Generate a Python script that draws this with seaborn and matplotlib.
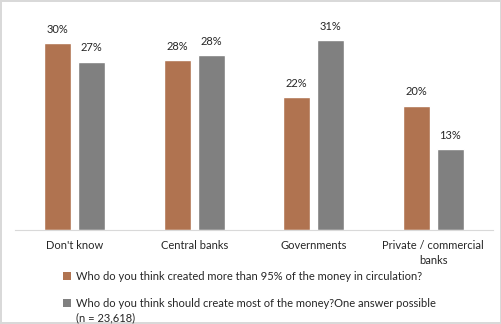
import matplotlib
matplotlib.use("Agg")
import matplotlib.pyplot as plt
from matplotlib.patches import Patch
import seaborn as sns
import pandas as pd

categories = ["Don't know", "Central banks", "Governments", "Private / commercial\nbanks"]
created = [30.4, 27.6, 21.6, 20.2]
should_create = [27.4, 28.4, 30.9, 13.1]
series_names = [
    "Who do you think created more than 95% of the money in circulation?",
    "Who do you think should create most of the money?One answer possible",
]
sample_note = "(n = 23,618)"
colors = ["#B07350", "#808080"]

df = pd.DataFrame({
    "category": categories * 2,
    "value": created + should_create,
    "series": [series_names[0]] * 4 + [series_names[1]] * 4,
})

sns.set_style("white")
plt.rcParams["font.family"] = ["Lato", "DejaVu Sans"]

fig = plt.figure(figsize=(5.02, 3.24), dpi=100)
fig.patch.set_edgecolor("#D9D9D9")
fig.patch.set_linewidth(1.5)
ax = fig.add_axes([0.03, 0.29, 0.952, 0.672])

sns.barplot(data=df, x="category", y="value", hue="series", order=categories,
            hue_order=series_names, palette=colors, width=0.57, gap=0.2,
            saturation=1, ax=ax, legend=False)

for cont in ax.containers:
    ax.bar_label(cont, labels=[f"{v:.0f}%" for v in cont.datavalues],
                 padding=6, fontsize=8, color="#262626")

ax.set_ylim(0, 35.4)
ax.set_xlim(-0.5, 3.5)
ax.set_xlabel("")
ax.set_ylabel("")
ax.set_yticks([])
for s in ["top", "right", "left"]:
    ax.spines[s].set_visible(False)
ax.spines["bottom"].set_color("#D9D9D9")
ax.tick_params(axis="x", length=0, labelsize=8, labelcolor="#262626", pad=7.2)
for lbl in ax.get_xticklabels():
    lbl.set_linespacing(1.45)

handles = [Patch(facecolor=c, edgecolor="none") for c in colors]
leg = fig.legend(handles, series_names, loc="upper left", bbox_to_anchor=(0.125, 0.165),
                 frameon=False, fontsize=8, handlelength=0.7, handleheight=0.7,
                 handletextpad=0.45, labelspacing=1.45, labelcolor="#262626",
                 borderaxespad=0, borderpad=0)

# sample size note sits on the line below the second legend entry
fig.canvas.draw()
bb = leg.get_texts()[1].get_window_extent().transformed(fig.transFigure.inverted())
fig.text(bb.x0, bb.y0 - 0.012, sample_note, fontsize=8, color="#262626",
         ha="left", va="top")

fig.savefig("out.png", dpi=100)
